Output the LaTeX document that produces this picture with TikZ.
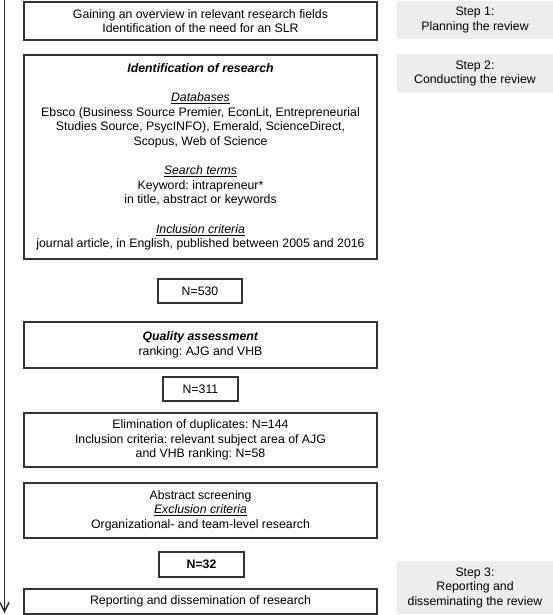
\documentclass[tikz,border=0pt]{standalone}
\usepackage{fontspec}
\setmainfont{Liberation Sans}
\usetikzlibrary{arrows.meta}
\frenchspacing

\newcommand{\subhead}[1]{\underline{\textit{#1}}}

\begin{document}
\begin{tikzpicture}[x=1pt,y=-1pt,
  every node/.style={font=\fontsize{12.3}{14.5}\selectfont,align=center,inner sep=0pt},
  box/.style={draw=black!80,line width=1.2pt,minimum width=353pt},
  countbox/.style={draw=black!80,line width=1.2pt,minimum height=24pt},
  stepbox/.style={fill=black!7,minimum width=156pt}]
\useasboundingbox (0,0) rectangle (553,615);
% process boxes
\node[box,minimum height=38pt] (plan) at (200.5,21)
  {Gaining an overview in relevant research fields\\Identification of the need for an SLR};
\node[box,minimum height=204pt] (ident) at (200.5,157)
  {\textbf{\textit{Identification of research}}\\[15pt]
   \subhead{Databases}\\
   Ebsco (Business Source Premier, EconLit, Entrepreneurial\\
   Studies Source, PsycINFO), Emerald, ScienceDirect,\\
   Scopus, Web of Science\\[15pt]
   \subhead{Search terms}\\
   Keyword: intrapreneur*\\
   in title, abstract or keywords\\[15pt]
   \subhead{Inclusion criteria}\\
   journal article, in English, published between 2005 and 2016};
\node[countbox,minimum width=84pt] (n530) at (200,291) {N=530};
\node[box,minimum height=46pt] (quality) at (200.5,345)
  {\textbf{\textit{Quality assessment}}\\ranking: AJG and VHB};
\node[countbox,minimum width=75pt] (n311) at (200.5,389) {N=311};
\node[box,minimum height=54pt] (elim) at (200.5,440)
  {Elimination of duplicates: N=144\\
   Inclusion criteria: relevant subject area of AJG\\
   and VHB ranking: N=58};
\node[box,minimum height=55pt] (abstr) at (200.5,510.5)
  {Abstract screening\\\subhead{Exclusion criteria}\\Organizational- and team-level research};
\node[countbox,line width=2.4pt,minimum width=85pt,minimum height=25pt] (n32) at (201.5,564.5) {\textbf{N=32}};
\node[box,minimum height=25pt] (report) at (200.5,601.5)
  {Reporting and dissemination of research};
% step labels
\node[stepbox,minimum height=38pt] (step1) at (475,20) {Step 1:\\Planning the review};
\node[stepbox,minimum height=39pt] (step2) at (475,73.5) {Step 2:\\Conducting the review};
\node[stepbox,minimum height=53pt] (step3) at (475,587.5) {Step 3:\\Reporting and\\disseminating the review};
% time arrow
\coordinate (top) at (4.5,0);
\coordinate (bottom) at (4.5,613);
\draw[-{Straight Barb[length=9pt,width=9pt]},line width=1.4pt,black!85] (top) -- (bottom);
\end{tikzpicture}
\end{document}
